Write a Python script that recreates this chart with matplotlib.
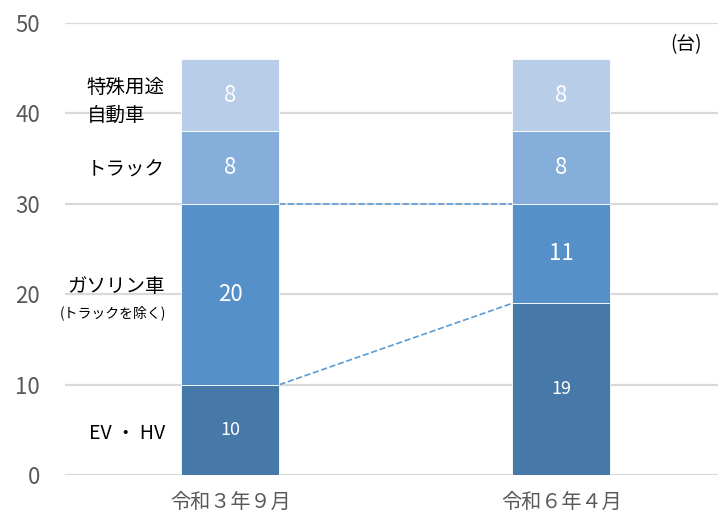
import matplotlib
matplotlib.use("Agg")
import matplotlib.pyplot as plt

plt.rcParams['font.family'] = ['Noto Sans CJK JP', 'DejaVu Sans']

# data
periods = ["令和３年９月", "令和６年４月"]
ev_hv = [10, 19]
gasoline = [20, 11]
truck = [8, 8]
special = [8, 8]

series = [ev_hv, gasoline, truck, special]
colors = ["#4678A8", "#5591C8", "#85AEDB", "#B8CDE8"]
label_sizes = [13, 16, 16, 16]

fig = plt.figure(figsize=(7.18, 5.17), dpi=100)
ax = fig.add_axes([0.0905, 0.0812, 0.9095, 0.8743])

x = [0, 1]
width = 0.296
bottom = [0, 0]
for vals, c, fs in zip(series, colors, label_sizes):
    ax.bar(x, vals, width, bottom=bottom, color=c, edgecolor="white", linewidth=0.6, zorder=3)
    for xi, v, b in zip(x, vals, bottom):
        ax.text(xi, b + v / 2, str(v), ha="center", va="center", color="white", fontsize=fs, zorder=4)
    bottom = [b + v for b, v in zip(bottom, vals)]

# dashed connectors
gas_top = [e + g for e, g in zip(ev_hv, gasoline)]
ax.plot([x[0] + width / 2, x[1] - width / 2], [ev_hv[0], ev_hv[1]], ls="--", color="#5B9BD5", lw=1.2, zorder=2)
ax.plot([x[0] + width / 2, x[1] - width / 2], [gas_top[0], gas_top[1]], ls="--", color="#5B9BD5", lw=1.2, zorder=2)

# category labels
lx = -0.198
ax.text(lx, 41.3, "特殊用途\n自動車", ha="right", va="center", multialignment="left", fontsize=14, linespacing=1.45)
ax.text(lx, 33.7, "トラック", ha="right", va="center", fontsize=14)
ax.text(lx, 20.8, "ガソリン車", ha="right", va="center", fontsize=14)
ax.text(lx + 0.003, 17.9, "(トラックを除く)", ha="right", va="center", fontsize=10)
ax.text(lx, 4.6, "EV ・ HV", ha="right", va="center", fontsize=14)
ax.text(1.376, 47.6, "(台)", ha="center", va="center", fontsize=13.5)

ax.set_xlim(-0.5, 1.473)
ax.set_ylim(0, 50)
ax.set_yticks(range(0, 51, 10))
ax.set_xticks(x)
ax.set_xticklabels(periods)
ax.yaxis.grid(True, color="#D9D9D9", lw=1.6, zorder=0)
ax.set_axisbelow(True)
for s in ax.spines.values():
    s.set_visible(False)
ax.tick_params(axis="y", length=0, pad=18, labelsize=16, labelcolor="#595959")
ax.tick_params(axis="x", length=0, pad=12, labelsize=14.5, labelcolor="#595959")

fig.savefig("out.png", dpi=100)
